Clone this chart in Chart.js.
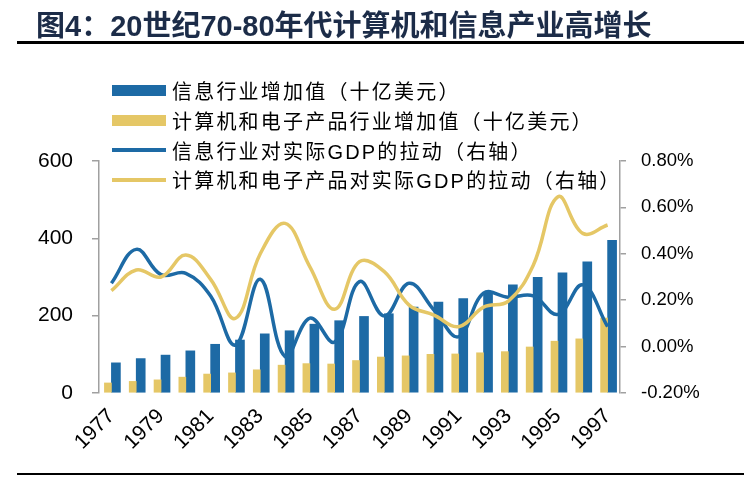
<!DOCTYPE html>
<html>
<head>
<meta charset="utf-8">
<script src="https://cdn.jsdelivr.net/npm/chart.js@4/dist/chart.umd.min.js"></script>
<style>
  body { margin: 0; background: #fff; }
  #wrap { position: relative; width: 749px; height: 477px; overflow: hidden; }
  #c { position: absolute; left: 0; top: 0; }
  .title { position: absolute; left: 36px; top: 2px; font: bold 29px "Liberation Sans", "Noto Sans CJK SC", sans-serif; color: #1c2c48; white-space: nowrap; }
  .rule { position: absolute; background: #000; }
  #legend { position: absolute; left: 112px; top: 76px; font: 20px "Liberation Sans", "Noto Sans CJK SC", sans-serif; letter-spacing: 2.2px; color: #000; }
  .row { height: 29.7px; display: flex; align-items: center; white-space: nowrap; }
  .sw { width: 54px; margin-right: 6px; flex: none; }
</style>
</head>
<body>
<div id="wrap">
  <canvas id="c" width="749" height="477"></canvas>
  <div class="title">图4：20世纪70-80年代计算机和信息产业高增长</div>
  <div class="rule" style="left:17px; top:41px; width:727px; height:3px;"></div>
  <div class="rule" style="left:17px; top:473px; width:727px; height:2px;"></div>
  <div id="legend"></div>
</div>
<script>
// data
const years = ['1977','1978','1979','1980','1981','1982','1983','1984','1985','1986','1987',
               '1988','1989','1990','1991','1992','1993','1994','1995','1996','1997'];
const infoValueAdded = [78, 89, 98, 109, 126, 137, 153, 161, 178, 187, 198, 205, 222, 235, 244, 260, 280, 299, 311, 339, 395];
const compValueAdded = [26, 30, 34, 41, 49, 52, 60, 72, 76, 75, 84, 93, 96, 100, 101, 104, 107, 119, 134, 140, 194];
const infoGdpPull = [0.273, 0.419, 0.31, 0.316, 0.218, 0.007, 0.29, -0.043, 0.123, 0.02, 0.28, 0.132, 0.273, 0.158, 0.043, 0.23, 0.213, 0.219, 0.139, 0.266, 0.086];
const compGdpPull = [0.241, 0.33, 0.30, 0.395, 0.29, 0.122, 0.40, 0.531, 0.344, 0.161, 0.366, 0.323, 0.179, 0.136, 0.086, 0.17, 0.196, 0.35, 0.646, 0.488, 0.524];
const leftTicks = [0, 200, 400, 600];
const rightTicks = [-0.2, 0, 0.2, 0.4, 0.6, 0.8];

const BLUE = '#1d6aa5';
const GOLD = '#e5c766';
const AXIS = '#a0a0a0';

const ctx = document.getElementById('c').getContext('2d');

window.myChart = new Chart(ctx, {
    data: {
        labels: years,
        datasets: [
            { type: 'bar', label: '信息行业增加值（十亿美元）', data: infoValueAdded, backgroundColor: BLUE, barThickness: 9, yAxisID: 'y', order: 3 },
            { type: 'bar', label: '计算机和电子产品行业增加值（十亿美元）', data: compValueAdded, backgroundColor: GOLD, barThickness: 7, yAxisID: 'y', order: 2 },
            { type: 'line', label: '信息行业对实际GDP的拉动（右轴）', data: infoGdpPull, borderColor: BLUE, borderWidth: 3.5, pointRadius: 0, tension: 0.4, yAxisID: 'y1', order: 1 },
            { type: 'line', label: '计算机和电子产品对实际GDP的拉动（右轴）', data: compGdpPull, borderColor: GOLD, borderWidth: 3.5, pointRadius: 0, tension: 0.4, yAxisID: 'y1', order: 0 }
        ]
    },
    options: {
        responsive: false,
        animation: false,
        layout: { padding: { top: 161, left: 0, right: 0, bottom: 0 } },
        plugins: { legend: { display: false }, tooltip: { enabled: false } },
        scales: {
            x: {
                offset: true,
                grid: { display: false, drawTicks: false },
                border: { display: false },
                ticks: {
                    autoSkip: false, minRotation: 45, maxRotation: 45, padding: 11, color: '#000',
                    font: { family: 'Liberation Sans', size: 21 },
                    callback: function (v, i) { return i % 2 === 0 ? this.getLabelForValue(v) : ''; }
                },
                afterFit: s => { s.height = 84; }
            },
            y: {
                position: 'left', min: 0, max: 600,
                afterBuildTicks: s => { s.ticks = leftTicks.map(v => ({ value: v })); },
                grid: { drawOnChartArea: false, drawTicks: true, tickLength: 7, color: AXIS, lineWidth: 1.5 },
                border: { color: AXIS, width: 1.5 },
                ticks: { padding: 19, color: '#000', font: { family: 'Liberation Sans', size: 21 } },
                afterFit: s => { s.width = 99; }
            },
            y1: {
                position: 'right', min: -0.2, max: 0.8,
                afterBuildTicks: s => { s.ticks = rightTicks.map(v => ({ value: v })); },
                grid: { drawOnChartArea: false, drawTicks: true, tickLength: 6, color: AXIS, lineWidth: 1.5 },
                border: { color: AXIS, width: 1.5 },
                ticks: { padding: 15, color: '#000', font: { family: 'Liberation Sans', size: 18.5 },
                         callback: v => v.toFixed(2) + '%' },
                afterFit: s => { s.width = 129; }
            }
        }
    }
});

// legend as html, built from the datasets
const legend = document.getElementById('legend');
window.myChart.data.datasets.forEach(ds => {
    const row = document.createElement('div');
    row.className = 'row';
    const sw = document.createElement('span');
    sw.className = 'sw';
    sw.style.background = ds.type === 'bar' ? ds.backgroundColor : ds.borderColor;
    sw.style.height = ds.type === 'bar' ? '11px' : '3.5px';
    const txt = document.createElement('span');
    txt.textContent = ds.label;
    row.appendChild(sw);
    row.appendChild(txt);
    legend.appendChild(row);
});
</script>
</body>
</html>
